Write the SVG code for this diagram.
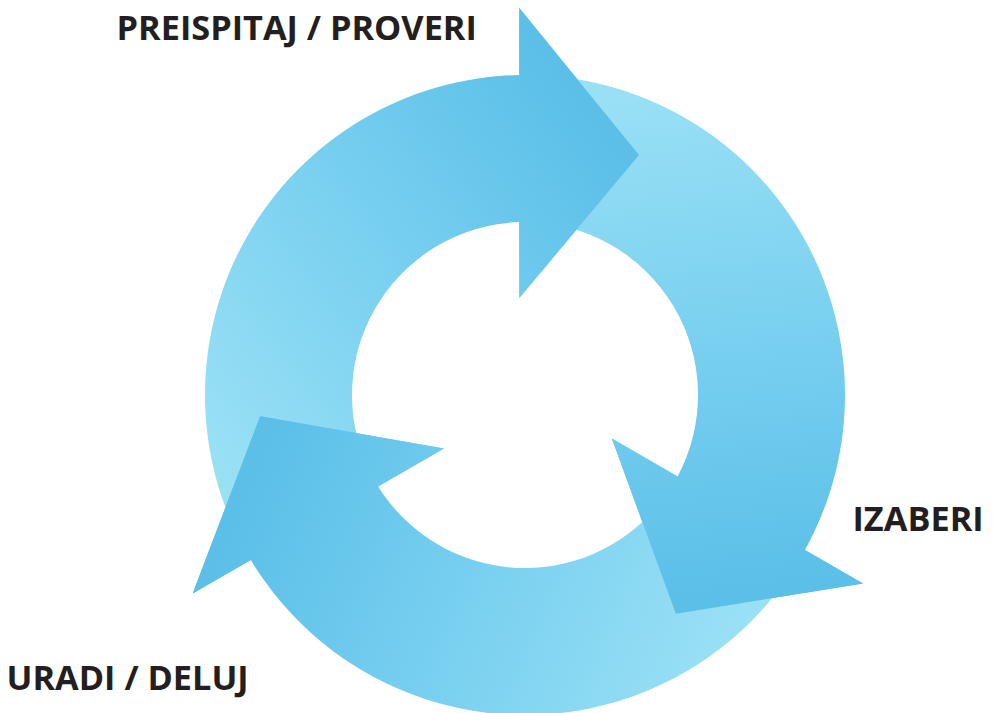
<svg xmlns="http://www.w3.org/2000/svg" width="996" height="713" viewBox="0 0 996 713">
  <defs>
    <linearGradient id="grad" gradientUnits="userSpaceOnUse" x1="225" y1="470" x2="630" y2="165">
      <stop offset="0" stop-color="#99E0F5"/>
      <stop offset="0.5" stop-color="#79D0F0"/>
      <stop offset="1" stop-color="#5BBFE8"/>
    </linearGradient>
    <path id="arrow" d="M247.87,555 A320,320 0 0 1 519.3,75.05 L519.3,8 L639,155 L519.3,298 L519.3,222.09 A173,173 0 0 0 375.18,481.5 Z"/>
    <path id="head" d="M519.3,8 L639,155 L519.3,298 L519.3,222.09 L519.3,75.05 Z"/>
  </defs>
  <style>
    .shape { fill: url(#grad); }
    .lbl { font-family: "Open Sans", "Liberation Sans", sans-serif; font-weight: 700; font-size: 34.3px; fill: #231F20; }
  </style>
  <rect width="996" height="713" fill="#FFFFFF"/>
  <g id="connectors">
    <use href="#arrow" class="shape"/>
    <use href="#arrow" class="shape" transform="rotate(120 525 395)"/>
    <use href="#arrow" class="shape" transform="rotate(240 525 395)"/>
    <use href="#head" class="shape"/>
    <use href="#head" class="shape" transform="rotate(120 525 395)"/>
    <use href="#head" class="shape" transform="rotate(240 525 395)"/>
  </g>
  <g id="node-preispitaj">
    <text class="lbl" x="116.5" y="40">PREISPITAJ / PROVERI</text>
  </g>
  <g id="node-izaberi">
    <text class="lbl" x="852.5" y="531">IZABERI</text>
  </g>
  <g id="node-uradi">
    <text class="lbl" x="6.5" y="690">URADI / DELUJ</text>
  </g>
</svg>
